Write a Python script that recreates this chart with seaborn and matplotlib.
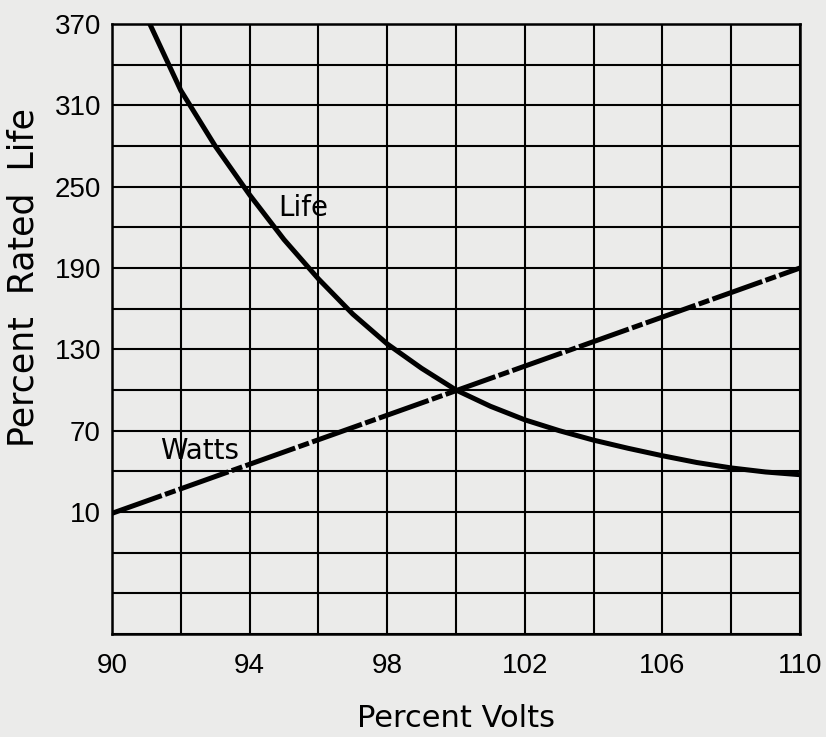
import pandas as pd
import seaborn as sns
import matplotlib.pyplot as plt

# Values
life_volts = [91.1, 92, 93, 94, 95, 96, 97, 98, 99, 100,
              101, 102, 103, 104, 105, 106, 107, 108, 109, 110]
life_pct = [370, 321, 280, 244, 211, 182, 156, 134, 116, 100,
            88, 78, 70, 63, 57, 51.5, 46.5, 42.5, 39.5, 37.5]

watts_volts = [90, 110]
watts_pct = [9, 190]

x_ticks = [90, 92, 94, 96, 98, 100, 102, 104, 106, 108, 110]
x_labels = ['90', '', '94', '', '98', '', '102', '', '106', '', '110']
y_ticks = [-80, -50, -20, 10, 40, 70, 100, 130, 160, 190, 220, 250, 280, 310, 340, 370]
y_labels = ['', '', '', '10', '', '70', '', '130', '', '190', '', '250', '', '310', '', '370']

bg = '#ebebea'
sns.set_style('white')
plt.rcParams['font.family'] = ['DejaVu Sans']
plt.rcParams['text.color'] = 'black'
plt.rcParams['axes.labelcolor'] = 'black'
plt.rcParams['lines.scale_dashes'] = False

df_life = pd.DataFrame({'volts': life_volts, 'pct': life_pct})
df_watts = pd.DataFrame({'volts': watts_volts, 'pct': watts_pct})

fig = plt.figure(figsize=(8.26, 7.37), dpi=100, facecolor=bg)
ax = fig.add_axes([0.1356, 0.1398, 0.8329, 0.8276], facecolor=bg)

sns.lineplot(data=df_life, x='volts', y='pct', color='black', lw=3.6, ax=ax)
sns.lineplot(data=df_watts, x='volts', y='pct', color='black', lw=3.6, ax=ax)
# mostly solid line with a few short breaks, like the original
ax.lines[1].set_linestyle((0, (38, 2.5, 8, 2.5)))
ax.lines[1].set_dash_capstyle('butt')

ax.set_xlim(90, 110)
ax.set_ylim(-80, 370)
ax.set_xticks(x_ticks)
ax.set_xticklabels(x_labels)
ax.set_yticks(y_ticks)
ax.set_yticklabels(y_labels)
ax.grid(True, color='black', lw=1.5)
ax.set_axisbelow(True)
for s in ax.spines.values():
    s.set_color('black')
    s.set_linewidth(1.8)

tick_font = ['Liberation Sans', 'DejaVu Sans']
ax.tick_params(axis='both', length=0, labelsize=20, colors='black')
ax.tick_params(axis='y', pad=8)
ax.tick_params(axis='x', pad=14)
for t in ax.get_xticklabels() + ax.get_yticklabels():
    t.set_family(tick_font)
    t.set_fontweight('medium')

ax.set_xlabel('Percent Volts', fontsize=22, labelpad=18)
ax.set_ylabel('')
fig.text(0.028, 0.624, 'Percent  Rated  Life', rotation=90, fontsize=25,
         ha='center', va='center')

ax.text(95.55, 234, 'Life', fontsize=20, ha='center', va='center')
ax.text(92.56, 55, 'Watts', fontsize=20, ha='center', va='center')

fig.savefig('out.png', dpi=100, facecolor=bg)
